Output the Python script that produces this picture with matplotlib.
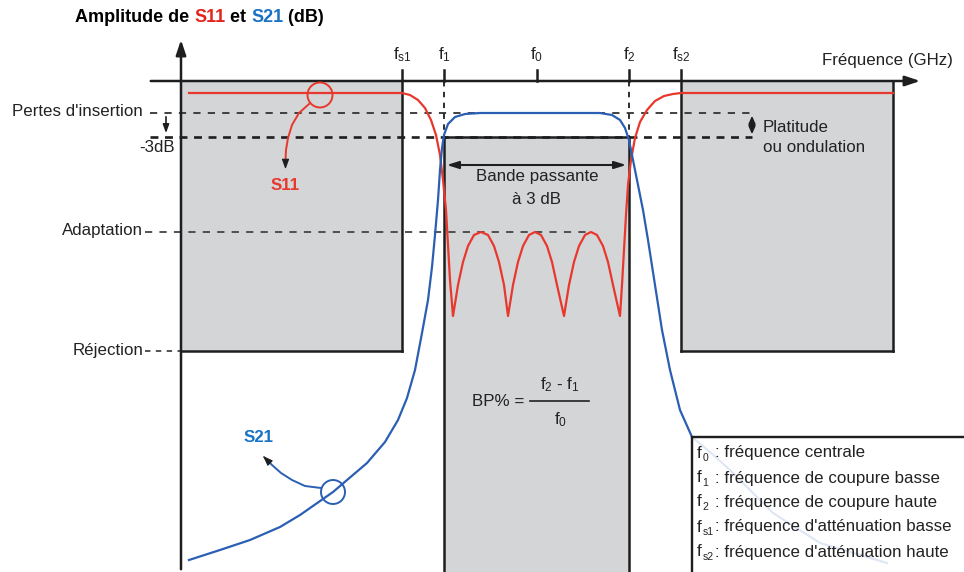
import matplotlib
matplotlib.use("Agg")
import matplotlib.pyplot as plt
from matplotlib.patches import Rectangle, Circle
from matplotlib.offsetbox import HPacker, TextArea, AnchoredOffsetbox

plt.rcParams['font.family'] = ['Liberation Sans', 'DejaVu Sans']
plt.rcParams['mathtext.fontset'] = 'custom'
plt.rcParams['mathtext.rm'] = 'Liberation Sans'
plt.rcParams['mathtext.it'] = 'Liberation Sans'
plt.rcParams['mathtext.default'] = 'regular'

# ---------------- data (schematic, pixel units) ----------------
# S11 reflection curve
s11_x = [189, 402, 410, 418, 425, 431, 436, 440, 443, 446, 448, 450, 453,
         458, 463, 468, 474, 481, 488, 494, 499, 504, 508,
         513, 518, 523, 529, 535, 541, 547, 552, 557, 564,
         569, 574, 579, 585, 591, 597, 603, 608, 613, 620,
         622, 624, 626, 628, 631, 635, 640, 647, 655, 664, 673, 681, 893]
s11_y = [93, 93, 95, 100, 108, 120, 135, 155, 180, 210, 245, 280, 316,
         285, 262, 246, 235, 232, 235, 246, 262, 285, 316,
         285, 262, 246, 235, 232, 235, 246, 262, 285, 316,
         285, 262, 246, 235, 232, 235, 246, 262, 285, 316,
         285, 250, 215, 185, 160, 138, 122, 110, 101, 96, 94, 93, 93]
# S21 transmission curve
s21_x = [189, 220, 250, 280, 300, 333, 367, 385, 398, 407, 415, 422, 428, 432, 435,
         438, 440, 442, 444, 448, 455, 465, 480, 600, 612, 620, 625, 629, 633,
         638, 643, 648, 655, 662, 670, 680, 692]
s21_y = [560, 550, 540, 527, 515, 492, 463, 442, 420, 398, 370, 333, 300, 267, 235,
         200, 170, 148, 135, 124, 117, 114, 113, 113, 115, 120, 128, 140, 160,
         185, 210, 240, 285, 330, 370, 410, 437]
s21_hidden_x = [692, 710, 730, 773, 820, 887]
s21_hidden_y = [437, 452, 470, 513, 543, 563]

# frequency markers
freq_names = ['f$_{s1}$', 'f$_{1}$', 'f$_{0}$', 'f$_{2}$', 'f$_{s2}$']
freq_pos = [402, 444, 537, 629, 681]

# amplitude levels
level_names = ["Pertes d'insertion", "-3dB", "Adaptation", "Réjection"]
level_pos = [113, 137, 232, 351]

legend_subs = ['0', '1', '2', 's1', 's2']
legend_text = [': fréquence centrale', ': fréquence de coupure basse',
               ': fréquence de coupure haute', ": fréquence d'atténuation basse",
               ": fréquence d'atténuation haute"]

RED = '#e8382d'
BLUE = '#2b5fb3'
LBLUE = '#1a72c4'
GREY = '#d4d5d7'
K = '#1e1e1e'
TXT = '#222222'
FS = 12.2

fig = plt.figure(figsize=(9.64, 5.72), dpi=100)
ax = fig.add_axes([0, 0, 1, 1])
ax.set_xlim(0, 964)
ax.set_ylim(572, 0)
ax.axis('off')

axis_y = 81
fs1, f1, f0, f2, fs2 = freq_pos
y_il, y_3db, y_ad, y_rej = level_pos

# grey boxes
ax.add_patch(Rectangle((181, axis_y), fs1 - 181, y_rej - axis_y, fc=GREY, ec='none', zorder=0))
ax.add_patch(Rectangle((fs2, axis_y), 893 - fs2, y_rej - axis_y, fc=GREY, ec='none', zorder=0))
ax.add_patch(Rectangle((f1, y_3db), f2 - f1, 572 - y_3db, fc=GREY, ec='none', zorder=0))

lw_k = 1.8
# box outlines
ax.plot([181, fs1], [y_rej, y_rej], color=K, lw=lw_k, zorder=2)
ax.plot([fs1, fs1], [70, y_rej], color=K, lw=lw_k, zorder=2)
ax.plot([fs2, fs2], [70, y_rej], color=K, lw=lw_k, zorder=2)
ax.plot([fs2, 893], [y_rej, y_rej], color=K, lw=lw_k, zorder=2)
ax.plot([893, 893], [axis_y, y_rej], color=K, lw=lw_k, zorder=2)
ax.plot([f1, f1], [y_3db, 572], color=K, lw=lw_k, zorder=2)
ax.plot([f2, f2], [y_3db, 572], color=K, lw=lw_k, zorder=2)
ax.plot([f1, f2], [y_3db, y_3db], color=K, lw=lw_k, zorder=2)

# ticks f1, f0, f2 above axis, dashed below for f1, f2
for x in (f1, f0, f2):
    ax.plot([x, x], [70, axis_y], color=K, lw=lw_k, zorder=2)
for x in (f1, f2):
    ax.plot([x, x], [axis_y, y_3db], color=K, lw=1.3, ls=(0, (3, 3)), zorder=2)

# axes with arrows
ax.annotate('', xy=(181, 37), xytext=(181, 572),
            arrowprops=dict(arrowstyle='-|>,head_length=0.9,head_width=0.3', color=K, lw=lw_k), zorder=3)
ax.annotate('', xy=(923, axis_y), xytext=(148, axis_y),
            arrowprops=dict(arrowstyle='-|>,head_length=0.9,head_width=0.3', color=K, lw=lw_k), zorder=3)

# level dashed lines
ax.plot([150, 752], [y_il, y_il], color='#333333', lw=1.3, ls=(0, (4, 4)), zorder=1)
ax.plot([150, 752], [y_3db, y_3db], color=K, lw=1.9, ls=(0, (3, 2.5)), zorder=1)
ax.plot([145, 592], [y_ad, y_ad], color='#444444', lw=1.3, ls=(0, (4, 4)), zorder=1)
ax.plot([145, 181], [y_rej, y_rej], color='#444444', lw=1.3, ls=(0, (3, 3)), zorder=1)

# level labels
lab_kw = dict(fontsize=FS, color=TXT, va='center')
ax.text(143, y_il - 1, level_names[0], ha='right', **lab_kw)
ax.text(175, y_3db + 10, level_names[1], ha='right', **lab_kw)
ax.text(143, y_ad - 2, level_names[2], ha='right', **lab_kw)
ax.text(143, y_rej, level_names[3], ha='right', **lab_kw)
ax.annotate('', xy=(166, 136), xytext=(166, 114),
            arrowprops=dict(arrowstyle='-|>,head_length=0.5,head_width=0.18', color=K, lw=1.2))

# frequency labels
for name, x in zip(freq_names, freq_pos):
    ax.text(x, 55, name, ha='center', va='center', fontsize=FS, color=TXT)
ax.text(953, 60, 'Fréquence (GHz)', ha='right', va='center', fontsize=FS, color=TXT)

# title
parts = [('Amplitude de ', 'black'), ('S11', '#e3231c'), (' et ', 'black'), ('S21', LBLUE), (' (dB)', 'black')]
boxes = [TextArea(s, textprops=dict(color=c, fontsize=13, fontweight='bold')) for s, c in parts]
pack = HPacker(children=boxes, align='baseline', pad=0, sep=0)
ab = AnchoredOffsetbox(loc='center left', child=pack, frameon=False,
                       bbox_to_anchor=(75, 17), bbox_transform=ax.transData, borderpad=0, pad=0)
ax.add_artist(ab)

# curves
ax.plot(s21_hidden_x, s21_hidden_y, color=BLUE, lw=1.5, zorder=3)
ax.plot(s11_x, s11_y, color=RED, lw=1.6, zorder=4, solid_joinstyle='round')
ax.plot(s21_x, s21_y, color=BLUE, lw=1.6, zorder=4, solid_joinstyle='round')

# S11 marker + arrow
ax.add_patch(Circle((320, 95), 12.5, fc='none', ec=RED, lw=1.4, zorder=5))
ax.plot([309, 299, 292, 288, 286, 285.5], [104, 113, 125, 138, 150, 160], color=RED, lw=1.4, zorder=5)
ax.annotate('', xy=(285.5, 172), xytext=(285.5, 160),
            arrowprops=dict(arrowstyle='-|>,head_length=0.6,head_width=0.22', color=K, lw=0.8), zorder=6)
ax.text(285, 186, 'S11', color=RED, fontsize=FS, fontweight='bold', ha='center', va='center')

# S21 marker + arrow
ax.add_patch(Circle((333, 492), 12, fc='none', ec=BLUE, lw=1.4, zorder=5))
ax.plot([321, 305, 292, 281, 272, 266], [488, 486, 480, 473, 465, 459], color=BLUE, lw=1.4, zorder=5)
ax.annotate('', xy=(261, 454), xytext=(267, 460),
            arrowprops=dict(arrowstyle='-|>,head_length=0.6,head_width=0.22', color=K, lw=0.8), zorder=6)
ax.text(259, 437, 'S21', color=LBLUE, fontsize=FS, fontweight='bold', ha='center', va='center')

# bandwidth double arrow
ax.annotate('', xy=(f1, 165), xytext=(f2, 165),
            arrowprops=dict(arrowstyle='<|-|>,head_length=0.7,head_width=0.22', color=K, lw=1.5), zorder=6)
ax.text(537, 176, 'Bande passante', fontsize=FS, ha='center', va='center', color=TXT)
ax.text(537, 199, 'à 3 dB', fontsize=FS, ha='center', va='center', color=TXT)

# flatness arrow
ax.annotate('', xy=(752, y_il), xytext=(752, y_3db),
            arrowprops=dict(arrowstyle='<|-|>,head_length=0.45,head_width=0.2', color=K, lw=1.3), zorder=6)
ax.text(763, 127, 'Platitude', fontsize=FS, ha='left', va='center', color=TXT)
ax.text(763, 148, 'ou ondulation', fontsize=FS, ha='left', va='center', color=TXT)

# bandwidth formula
ax.text(524, 402, 'BP% =', fontsize=FS, ha='right', va='center', color=TXT)
ax.plot([530, 589], [401, 401], color=TXT, lw=1.2)
ax.text(560, 385, 'f$_{2}$ - f$_{1}$', fontsize=FS, ha='center', va='center', color=TXT)
ax.text(561, 420, 'f$_{0}$', fontsize=FS, ha='center', va='center', color=TXT)

# legend box
ax.add_patch(Rectangle((692, 437), 280, 140, fc='white', ec=K, lw=1.6, alpha=0.85, zorder=7))
ax.add_patch(Rectangle((692, 437), 280, 140, fc='none', ec=K, lw=1.6, zorder=8))
leg_y = [453, 478, 502, 527, 552]
for sub, txt, y in zip(legend_subs, legend_text, leg_y):
    ax.text(697, y, 'f', fontsize=FS, ha='left', va='center', color=TXT, zorder=9)
    ax.text(702.5, y + 5, sub, fontsize=7.5, ha='left', va='center', color=TXT, zorder=9)
    ax.text(715, y, txt, fontsize=FS, ha='left', va='center', color=TXT, zorder=9)

fig.savefig('out.png', dpi=100)
